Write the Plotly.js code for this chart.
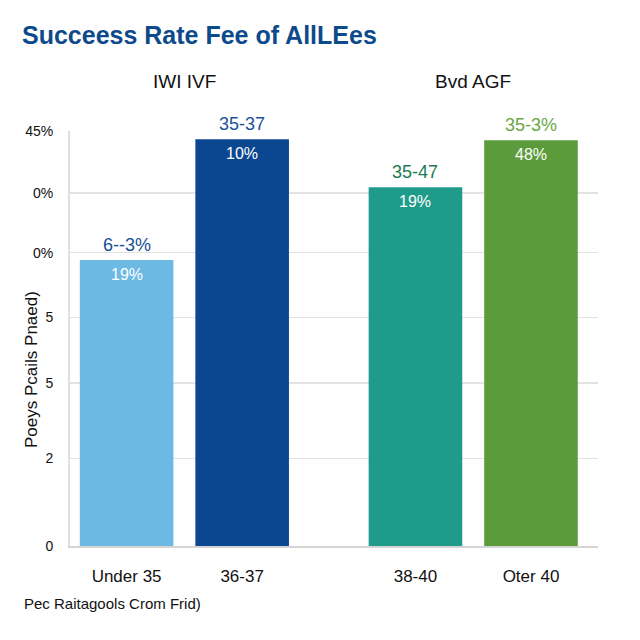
<!DOCTYPE html>
<html>
<head>
<meta charset="utf-8">
<script src="https://cdn.plot.ly/plotly-3.0.1.min.js"></script>
<style>html,body{margin:0;padding:0;background:#fff;}#chart{width:640px;height:640px;}</style>
</head>
<body>
<div id="chart"></div>
<script>
// ---- data ----
var categories = ["Under 35", "36-37", "38-40", "Oter 40"];
var groupIndex = [0, 0, 1, 1];
var groupNames = ["IWI IVF", "Bvd AGF"];
var successRate = [31.0, 44.1, 38.9, 44.0];
var topLabels = ["6--3%", "35-37", "35-47", "35-3%"];
var innerLabels = ["19%", "10%", "19%", "48%"];
var yTickVals = [0, 9.5, 17.7, 24.8, 31.8, 38.3, 45];
var yTickText = ["0", "2", "5", "5", "0%", "0%", "45%"];

// ---- styles ----
var barColors = ["#6cb9e4", "#0b4690", "#1f9b8b", "#5c9b3b"];
var topLabelColors = ["#164f95", "#1a5299", "#1d7a55", "#6aa844"];
var FONT = "Liberation Sans, Arial, sans-serif";

// slot positions: a half-slot gap between the two groups
var xSlots = categories.map(function (c, i) { return i + groupIndex[i] * 0.5; });

var trace = {
  type: "bar",
  x: xSlots,
  y: successRate,
  width: 0.81,
  marker: { color: barColors },
  hoverinfo: "skip"
};

// plot area in pixels (for placing paper-referenced text)
var PL = 70, PR = 598, PT = 131, PB = 546;
function px(x) { return (x - PL) / (PR - PL); }
function py(y) { return (PB - y) / (PB - PT); }

var annotations = [];
for (var i = 0; i < categories.length; i++) {
  annotations.push({
    x: xSlots[i], y: successRate[i], xref: "x", yref: "y",
    text: topLabels[i], showarrow: false, xanchor: "center", yanchor: "bottom", yshift: 3,
    font: { family: FONT, size: 18, color: topLabelColors[i] }
  });
  annotations.push({
    x: xSlots[i], y: successRate[i], xref: "x", yref: "y",
    text: innerLabels[i], showarrow: false, xanchor: "center", yanchor: "top", yshift: -4,
    font: { family: FONT, size: 16, color: "#ffffff" }
  });
}
// group headers
for (var g = 0; g < groupNames.length; g++) {
  var members = xSlots.filter(function (s, i) { return groupIndex[i] === g; });
  var cx = (members[0] + members[members.length - 1]) / 2;
  annotations.push({
    x: cx, y: py(82), xref: "x", yref: "paper", xanchor: "center", yanchor: "middle",
    text: groupNames[g], showarrow: false,
    font: { family: FONT, size: 19, color: "#111111" }
  });
}
// y-axis title
annotations.push({
  x: px(31), y: py(370), xref: "paper", yref: "paper",
  xanchor: "center", yanchor: "middle",
  text: "Poeys Pcails Pnaed)", showarrow: false, textangle: -90,
  font: { family: FONT, size: 17, color: "#111111" }
});
// footnote
annotations.push({
  x: px(22), y: py(603), xref: "paper", yref: "paper",
  xanchor: "left", yanchor: "middle",
  text: "Pec Raitagools Crom Frid)", showarrow: false,
  font: { family: FONT, size: 15, color: "#111111" }
});

var layout = {
  width: 640, height: 640,
  margin: { l: PL, r: 640 - PR, t: PT, b: 640 - PB, pad: 0 },
  paper_bgcolor: "#ffffff", plot_bgcolor: "#ffffff",
  showlegend: false,
  title: {
    text: "<b>Succeess Rate Fee of AllLEes</b>",
    x: 22 / 640, xanchor: "left", xref: "container",
    y: 1 - 35 / 640, yanchor: "middle", yref: "container",
    font: { family: FONT, size: 25, color: "#0d4a8c" }
  },
  xaxis: {
    range: [-0.49, 4.08],
    tickvals: xSlots, ticktext: categories,
    ticks: "outside", ticklen: 14, tickcolor: "rgba(0,0,0,0)",
    tickfont: { family: FONT, size: 17, color: "#111111" },
    showgrid: false, zeroline: false,
    showline: true, linecolor: "#d4d4d4", linewidth: 2,
    fixedrange: true
  },
  yaxis: {
    range: [0, 45],
    tickvals: yTickVals, ticktext: yTickText,
    ticks: "outside", ticklen: 12, tickcolor: "rgba(0,0,0,0)",
    tickfont: { family: FONT, size: 14, color: "#111111" },
    showgrid: true, gridcolor: "#e3e3e3", gridwidth: 1.5,
    zeroline: false,
    showline: true, linecolor: "#e0e0e0", linewidth: 2,
    fixedrange: true
  },
  annotations: annotations
};

Plotly.newPlot("chart", [trace], layout, { displayModeBar: false, staticPlot: true });
</script>
</body>
</html>
